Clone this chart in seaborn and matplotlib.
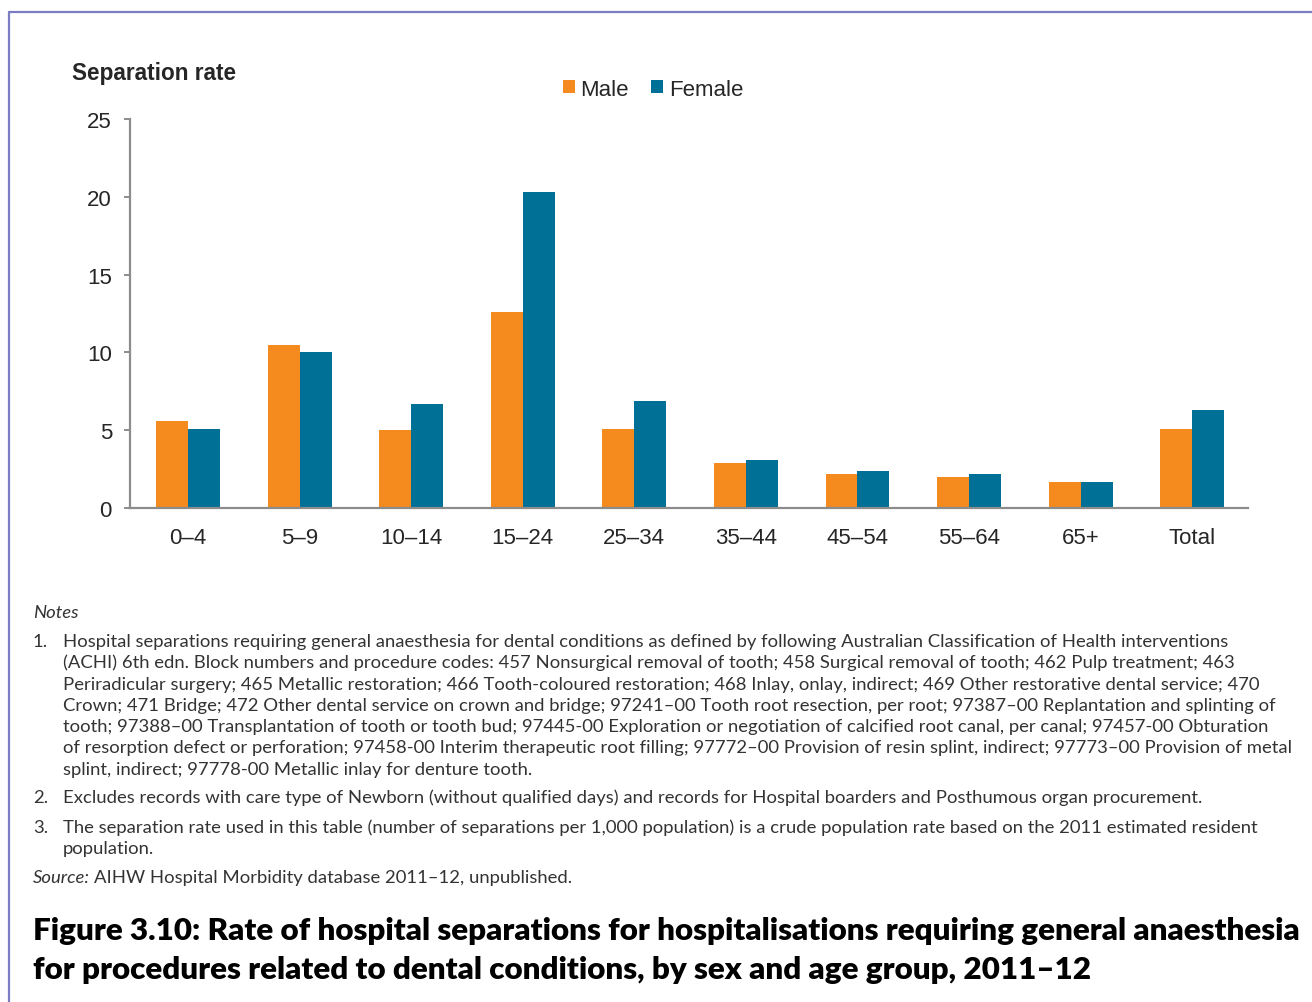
import pandas as pd
import seaborn as sns
import matplotlib.pyplot as plt
from matplotlib.lines import Line2D

ages = ["0–4", "5–9", "10–14", "15–24", "25–34", "35–44", "45–54", "55–64", "65+", "Total"]
male = [5.6, 10.5, 5.0, 12.6, 5.1, 2.9, 2.2, 2.0, 1.7, 5.1]
female = [5.1, 10.0, 6.7, 20.3, 6.9, 3.1, 2.4, 2.2, 1.7, 6.3]
sexes = ["Male", "Female"]
yticks = [0, 5, 10, 15, 20, 25]

note1 = [
    "Hospital separations requiring general anaesthesia for dental conditions as defined by following Australian Classification of Health interventions",
    "(ACHI) 6th edn. Block numbers and procedure codes: 457 Nonsurgical removal of tooth; 458 Surgical removal of tooth; 462 Pulp treatment; 463",
    "Periradicular surgery; 465 Metallic restoration; 466 Tooth-coloured restoration; 468 Inlay, onlay, indirect; 469 Other restorative dental service; 470",
    "Crown; 471 Bridge; 472 Other dental service on crown and bridge; 97241–00 Tooth root resection, per root; 97387–00 Replantation and splinting of",
    "tooth; 97388–00 Transplantation of tooth or tooth bud; 97445-00 Exploration or negotiation of calcified root canal, per canal; 97457-00 Obturation",
    "of resorption defect or perforation; 97458-00 Interim therapeutic root filling; 97772–00 Provision of resin splint, indirect; 97773–00 Provision of metal",
    "splint, indirect; 97778-00 Metallic inlay for denture tooth.",
]
note2 = "Excludes records with care type of Newborn (without qualified days) and records for Hospital boarders and Posthumous organ procurement."
note3 = [
    "The separation rate used in this table (number of separations per 1,000 population) is a crude population rate based on the 2011 estimated resident",
    "population.",
]
source = "AIHW Hospital Morbidity database 2011–12, unpublished."
title = [
    "Figure 3.10: Rate of hospital separations for hospitalisations requiring general anaesthesia",
    "for procedures related to dental conditions, by sex and age group, 2011–12",
]

df = pd.DataFrame({
    "age": ages * 2,
    "rate": male + female,
    "sex": ["Male"] * len(ages) + ["Female"] * len(ages),
})

sns.set_style("white")
plt.rcParams["font.family"] = ["Liberation Sans", "DejaVu Sans"]

W, H = 1312, 1003
fig = plt.figure(figsize=(W / 100, H / 100), dpi=100)


def fx(px):
    return px / W


def fy(py):
    return 1 - py / H


def fit(s, target, **kw):
    # font size that makes the string s about target px wide
    t = fig.text(0, 0, s, fontsize=12, **kw)
    fig.canvas.draw()
    w = t.get_window_extent().width
    t.remove()
    return 12 * target / w


ax = fig.add_axes([fx(130), fy(509), fx(1248) - fx(130), fy(120) - fy(509)])
sns.barplot(data=df, x="age", y="rate", hue="sex", hue_order=sexes,
            palette=["#F58A1F", "#007096"], saturation=1, width=0.573,
            linewidth=0, ax=ax)

handles, labels = ax.get_legend_handles_labels()
ax.legend_.remove()
fig.legend(handles, labels, loc="center", bbox_to_anchor=(fx(653), fy(90)),
           ncol=2, frameon=False, fontsize=16, handlelength=0.55, handleheight=0.55,
           handletextpad=0.25, columnspacing=1.0)

ax.set_xlim(-0.52, 9.5)
ax.set_ylim(0, 25)
ax.set_yticks(yticks)
ax.set_xlabel("")
ax.set_ylabel("")
sns.despine(ax=ax)
for s in ["left", "bottom"]:
    ax.spines[s].set_color("#8c8c8c")
    ax.spines[s].set_linewidth(1.6)
ax.tick_params(axis="y", direction="out", length=4, width=1.4, color="#8c8c8c",
               labelsize=16, pad=9, left=True)
ax.tick_params(axis="x", length=0, labelsize=16, pad=14)

fig.text(fx(72), fy(80), "Separation rate", fontsize=16.3, fontweight="bold", va="baseline")

# notes block
nfont = ["Lato", "DejaVu Sans"]
ncol = "#333333"
nsize = min(fit(note1[0], 1185, family=nfont), fit(note1[5], 1222, family=nfont))

fig.text(fx(33), fy(618), "Notes", fontsize=nsize, style="italic", family=nfont,
         color=ncol, va="baseline")
y = 647
fig.text(fx(33), fy(y), "1.", fontsize=nsize, family=nfont, color=ncol, va="baseline")
for line in note1:
    fig.text(fx(63), fy(y), line, fontsize=nsize, family=nfont, color=ncol, va="baseline")
    y += 21.3
fig.text(fx(33), fy(803.5), "2.", fontsize=nsize, family=nfont, color=ncol, va="baseline")
fig.text(fx(63), fy(803.5), note2, fontsize=nsize, family=nfont, color=ncol, va="baseline")
y = 833
fig.text(fx(33), fy(y), "3.", fontsize=nsize, family=nfont, color=ncol, va="baseline")
for line in note3:
    fig.text(fx(63), fy(y), line, fontsize=nsize, family=nfont, color=ncol, va="baseline")
    y += 21.3
src = fig.text(fx(33), fy(883), "Source:", fontsize=nsize, style="italic", family=nfont,
               color=ncol, va="baseline")
fig.canvas.draw()
bb = src.get_window_extent()
fig.text(bb.x1 / W + fx(4), fy(883), source, fontsize=nsize, family=nfont,
         color=ncol, va="baseline")

tsize = fit(title[0], 1263, family=nfont, fontweight="heavy")
fig.text(fx(33), fy(940), title[0], fontsize=tsize, fontweight="heavy", family=nfont,
         color="black", va="baseline")
fig.text(fx(33), fy(979), title[1], fontsize=tsize, fontweight="heavy", family=nfont,
         color="black", va="baseline")

# frame lines
fig.add_artist(Line2D([fx(9), fx(9)], [fy(13), 0], color="#7C7CC4", lw=1.6))
fig.add_artist(Line2D([fx(9), 1], [fy(13), fy(13)], color="#7C7CC4", lw=1.6))

fig.savefig("out.png", dpi=100)
